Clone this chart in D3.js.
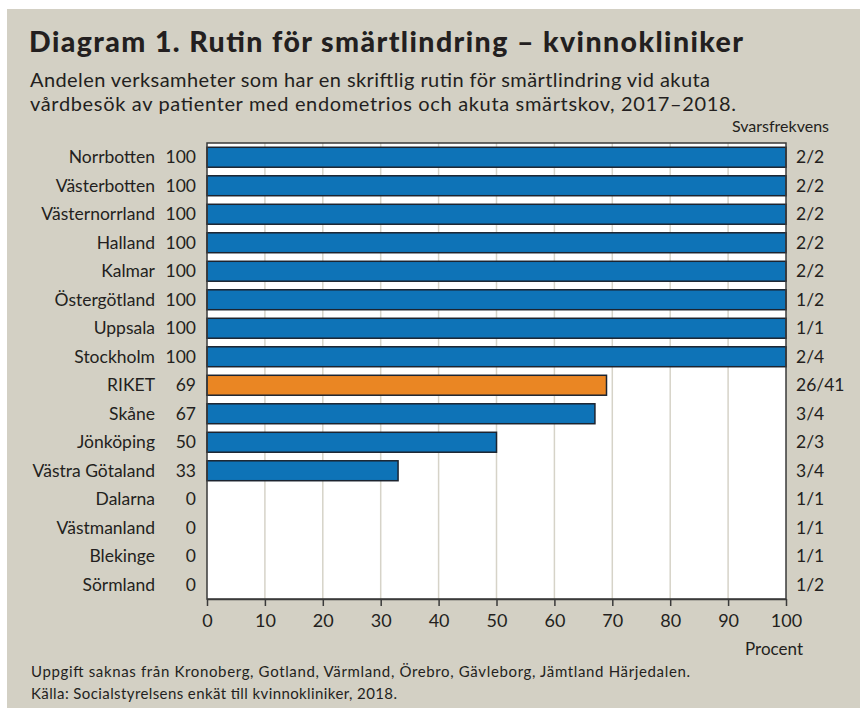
<!DOCTYPE html>
<html>
<head>
<meta charset="utf-8">
<script src="https://cdn.jsdelivr.net/npm/d3@7"></script>
<style>
  body { margin: 0; background: #fff; }
  text { font-family: Lato, "Open Sans", sans-serif; fill: #231f20; }
</style>
</head>
<body>
<div class="chart"></div>
<script>
// data
var regions = ["Norrbotten", "Västerbotten", "Västernorrland", "Halland", "Kalmar",
  "Östergötland", "Uppsala", "Stockholm", "RIKET", "Skåne", "Jönköping",
  "Västra Götaland", "Dalarna", "Västmanland", "Blekinge", "Sörmland"];
var values = [100, 100, 100, 100, 100, 100, 100, 100, 69, 67, 50, 33, 0, 0, 0, 0];
var responses = ["2/2", "2/2", "2/2", "2/2", "2/2", "1/2", "1/1", "2/4", "26/41",
  "3/4", "2/3", "3/4", "1/1", "1/1", "1/1", "1/2"];
var xTicks = [0, 10, 20, 30, 40, 50, 60, 70, 80, 90, 100];

var svgWidth = 860, svgHeight = 710;
var margin = { top: 143, left: 207, right: 74, bottom: 111 };
var width = svgWidth - margin.left - margin.right;
var height = svgHeight - margin.top - margin.bottom;

var svg = d3.select(".chart").append("svg")
  .attr("width", svgWidth)
  .attr("height", svgHeight);

// beige panel
svg.append("rect")
  .attr("x", 7).attr("y", 9)
  .attr("width", svgWidth - 7).attr("height", 699)
  .attr("fill", "#d3d0c4");

svg.append("text")
  .attr("x", 29).attr("y", 52)
  .attr("font-size", "28.5px")
  .attr("font-weight", "900")
  .attr("textLength", 714)
  .attr("lengthAdjust", "spacing")
  .text("Diagram 1. Rutin för smärtlindring – kvinnokliniker");

var subtitle = ["Andelen verksamheter som har en skriftlig rutin för smärtlindring vid akuta",
  "vårdbesök av patienter med endometrios och akuta smärtskov, 2017–2018."];
var subtitleWidths = [680, 706];
svg.selectAll(".subtitle")
  .data(subtitle)
  .enter()
  .append("text")
  .attr("class", "subtitle")
  .attr("x", 30)
  .attr("y", (d, i) => 87 + i * 24)
  .attr("font-size", "20px")
  .attr("textLength", (d, i) => subtitleWidths[i])
  .attr("lengthAdjust", "spacing")
  .text(d => d);

var chartGroup = svg.append("g")
  .attr("transform", `translate(${margin.left}, ${margin.top})`);

var x = d3.scaleLinear().domain([0, 100]).range([0, width]);
var y = d3.scaleBand().domain(regions).range([0, height]).paddingInner(0.3).paddingOuter(0.15);

// plot background
chartGroup.append("rect")
  .attr("width", width).attr("height", height)
  .attr("fill", "#fff");

// gridlines
chartGroup.append("g")
  .selectAll("line")
  .data(xTicks.slice(1, -1))
  .enter()
  .append("line")
  .attr("x1", d => x(d)).attr("x2", d => x(d))
  .attr("y1", 0).attr("y2", height)
  .attr("stroke", "#d6d3c8")
  .attr("stroke-width", 1.5);

// bars
chartGroup.selectAll(".bar")
  .data(values)
  .enter()
  .append("rect")
  .attr("class", "bar")
  .attr("x", x(0))
  .attr("y", (d, i) => y(regions[i]))
  .attr("width", d => x(d) - x(0))
  .attr("height", y.bandwidth())
  .attr("fill", (d, i) => regions[i] === "RIKET" ? "#ea8623" : "#0e73b7")
  .attr("stroke", (d, i) => d > 0 ? "#1c2430" : "none")
  .attr("stroke-width", 1.5);

// frame
chartGroup.append("rect")
  .attr("width", width).attr("height", height)
  .attr("fill", "none")
  .attr("stroke", "#3a3a3a")
  .attr("stroke-width", 1.5);

// x axis
var xAxis = d3.axisBottom(x).tickValues(xTicks).tickSize(7).tickPadding(8).tickSizeOuter(0);
var axisG = chartGroup.append("g")
  .attr("transform", `translate(0, ${height})`)
  .call(xAxis);
axisG.select(".domain").attr("stroke", "#3a3a3a").attr("stroke-width", 1.5);
axisG.selectAll(".tick line").attr("stroke", "#3a3a3a").attr("stroke-width", 1.5);
axisG.selectAll(".tick text")
  .attr("font-size", "18px")
  .attr("font-family", "Lato, sans-serif")
  .attr("fill", "#231f20");

chartGroup.append("text")
  .attr("x", width + 17).attr("y", height + 56)
  .attr("text-anchor", "end")
  .attr("font-size", "17px")
  .text("Procent");

// category labels
chartGroup.selectAll(".cat")
  .data(regions)
  .enter()
  .append("text")
  .attr("class", "cat")
  .attr("x", -52)
  .attr("y", d => y(d) + y.bandwidth() / 2)
  .attr("dy", "0.35em")
  .attr("text-anchor", "end")
  .attr("font-size", "17.5px")
  .text(d => d);

// value labels
chartGroup.selectAll(".val")
  .data(values)
  .enter()
  .append("text")
  .attr("class", "val")
  .attr("x", -11)
  .attr("y", (d, i) => y(regions[i]) + y.bandwidth() / 2)
  .attr("dy", "0.35em")
  .attr("text-anchor", "end")
  .attr("font-size", "17.5px")
  .text(d => d);

// response labels
chartGroup.selectAll(".resp")
  .data(responses)
  .enter()
  .append("text")
  .attr("class", "resp")
  .attr("x", width + 10)
  .attr("y", (d, i) => y(regions[i]) + y.bandwidth() / 2)
  .attr("dy", "0.35em")
  .attr("font-size", "17.5px")
  .text(d => d);

chartGroup.append("text")
  .attr("x", width + 43).attr("y", -11)
  .attr("text-anchor", "end")
  .attr("font-size", "16px")
  .text("Svarsfrekvens");

// footnotes
var notes = ["Uppgift saknas från Kronoberg, Gotland, Värmland, Örebro, Gävleborg, Jämtland Härjedalen.",
  "Källa: Socialstyrelsens enkät till kvinnokliniker, 2018."];
var noteWidths = [659, 366];
svg.selectAll(".note")
  .data(notes)
  .enter()
  .append("text")
  .attr("class", "note")
  .attr("x", 31)
  .attr("y", (d, i) => 677 + i * 22)
  .attr("font-size", "15px")
  .attr("textLength", (d, i) => noteWidths[i])
  .attr("lengthAdjust", "spacing")
  .text(d => d);
</script>
</body>
</html>
